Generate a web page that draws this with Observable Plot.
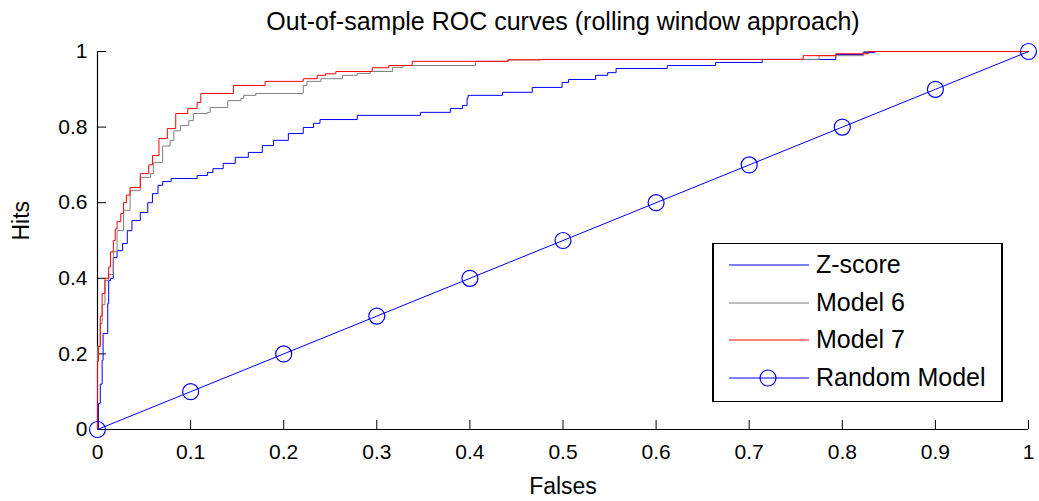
<!DOCTYPE html>
<html>
<head>
<meta charset="utf-8">
<script src="https://cdn.jsdelivr.net/npm/d3@7"></script>
<script src="https://cdn.jsdelivr.net/npm/@observablehq/plot@0.6"></script>
<style>
  body { margin: 0; background: #fff; }
  #wrap { position: relative; width: 1039px; height: 501px; font-family: "Liberation Sans", Arial, sans-serif; }
  #legend { position: absolute; left: 712px; top: 243px; width: 291px; height: 159px; box-sizing: border-box;
            border: 1px solid #000; border-left-width: 2px; border-right-width: 2px; background: #fff; }
  .row { position: absolute; left: 0; width: 100%; height: 0; }
  .row svg { position: absolute; left: 14px; top: -10px; }
  .row span { position: absolute; left: 102px; top: 0; transform: translateY(-52%); font-size: 25px; color: #000; white-space: nowrap; }
</style>
</head>
<body>
<div id="wrap"></div>
<script>
// ---- data ----
const titleText = "Out-of-sample ROC curves (rolling window approach)";
const xLabel = "Falses";
const yLabel = "Hits";
const xTicks = [0, 0.1, 0.2, 0.3, 0.4, 0.5, 0.6, 0.7, 0.8, 0.9, 1];
const yTicks = [0, 0.2, 0.4, 0.6, 0.8, 1];
const seriesNames = ["Z-score", "Model 6", "Model 7", "Random Model"];
const seriesColors = ["#0000ff", "#808080", "#ff0000", "#0000ff"];

// Z-score (blue)
const zFalses = [0, 0.001, 0.001, 0.003, 0.005, 0.006, 0.011, 0.012, 0.014, 0.017, 0.021, 0.027, 0.032, 0.037, 0.046, 0.054, 0.059, 0.065, 0.070, 0.079, 0.107, 0.118, 0.124, 0.135, 0.148, 0.162, 0.177, 0.189, 0.205, 0.221, 0.232, 0.239, 0.279, 0.347, 0.379, 0.392, 0.397, 0.398, 0.435, 0.467, 0.499, 0.506, 0.535, 0.548, 0.557, 0.612, 0.612, 0.664, 0.714, 0.714, 0.793, 0.822, 0.835, 1];
const zHits   = [0, 0.040, 0.069, 0.120, 0.183, 0.254, 0.333, 0.394, 0.400, 0.455, 0.473, 0.492, 0.526, 0.553, 0.574, 0.600, 0.624, 0.646, 0.656, 0.664, 0.672, 0.680, 0.690, 0.704, 0.720, 0.733, 0.751, 0.765, 0.783, 0.799, 0.810, 0.820, 0.831, 0.839, 0.849, 0.857, 0.876, 0.884, 0.892, 0.905, 0.918, 0.926, 0.937, 0.944, 0.955, 0.958, 0.963, 0.971, 0.976, 0.979, 0.992, 0.997, 1.0, 1.0];

// Model 6 (grey)
const m6Falses = [0, 0, 0.003, 0.005, 0.008, 0.012, 0.017, 0.021, 0.028, 0.035, 0.046, 0.057, 0.060, 0.070, 0.078, 0.082, 0.089, 0.098, 0.103, 0.118, 0.121, 0.140, 0.154, 0.157, 0.170, 0.221, 0.225, 0.240, 0.263, 0.279, 0.293, 0.317, 0.328, 0.406, 0.441, 0.476, 0.775, 0.823, 1];
const m6Hits   = [0, 0.22, 0.28, 0.33, 0.394, 0.41, 0.47, 0.526, 0.58, 0.632, 0.667, 0.677, 0.706, 0.75, 0.765, 0.79, 0.804, 0.817, 0.836, 0.839, 0.852, 0.87, 0.876, 0.884, 0.889, 0.910, 0.921, 0.928, 0.937, 0.942, 0.947, 0.958, 0.963, 0.974, 0.978, 0.979, 0.989, 1.0, 1.0];

// Model 7 (red)
const m7Falses = [0, 0, 0.001, 0.003, 0.005, 0.008, 0.012, 0.014, 0.017, 0.019, 0.021, 0.025, 0.028, 0.031, 0.035, 0.046, 0.055, 0.059, 0.066, 0.075, 0.084, 0.097, 0.107, 0.111, 0.146, 0.180, 0.221, 0.236, 0.245, 0.256, 0.295, 0.313, 0.338, 0.441, 0.476, 0.758, 0.793, 0.828, 1];
const m7Hits   = [0, 0.18, 0.22, 0.30, 0.36, 0.40, 0.43, 0.47, 0.50, 0.53, 0.55, 0.571, 0.60, 0.62, 0.64, 0.677, 0.70, 0.725, 0.77, 0.796, 0.836, 0.849, 0.865, 0.889, 0.910, 0.921, 0.928, 0.937, 0.941, 0.947, 0.957, 0.963, 0.974, 0.978, 0.979, 0.989, 0.994, 1.0, 1.0];

// Random model (blue with circles)
const randFalses = [0, 0.1, 0.2, 0.3, 0.4, 0.5, 0.6, 0.7, 0.8, 0.9, 1];
const randHits   = [0, 0.1, 0.2, 0.3, 0.4, 0.5, 0.6, 0.7, 0.8, 0.9, 1];

// ---- build tables ----
const toRows = (xs, ys) => xs.map((x, i) => ({x, y: ys[i]}));
const zData = toRows(zFalses, zHits);
const m6Data = toRows(m6Falses, m6Hits);
const m7Data = toRows(m7Falses, m7Hits);
const randData = toRows(randFalses, randHits);

const W = 1039, H = 501, mL = 97, mR = 11, mT = 51, mB = 72;
const innerW = W - mL - mR, innerH = H - mT - mB;
const tickLen = 9;
const fmt = d => String(d);

const chart = Plot.plot({
  width: W, height: H,
  marginLeft: mL, marginRight: mR, marginTop: mT, marginBottom: mB,
  style: { fontFamily: '"Liberation Sans", Arial, sans-serif', fontSize: "21px", color: "#000", background: "#fff", overflow: "visible" },
  x: { domain: [0, 1] },
  y: { domain: [0, 1] },
  marks: [
    Plot.ruleY([0], { stroke: "#000", strokeWidth: 1.2 }),
    Plot.ruleX([0], { stroke: "#000", strokeWidth: 1.2 }),
    Plot.ruleX(xTicks, { x: d => d, insetTop: innerH - tickLen, stroke: "#000" }),
    Plot.ruleY(yTicks, { y: d => d, insetRight: innerW - tickLen, stroke: "#000" }),
    Plot.axisX({ ticks: xTicks, tickSize: 0, tickPadding: 15, tickFormat: fmt, label: null }),
    Plot.axisY({ ticks: yTicks, tickSize: 0, tickPadding: 10, tickFormat: fmt, label: null }),
    Plot.line(zData, { x: "x", y: "y", curve: "step-after", stroke: seriesColors[0], strokeWidth: 1 }),
    Plot.line(m6Data, { x: "x", y: "y", curve: "step-after", stroke: seriesColors[1], strokeWidth: 1 }),
    Plot.line(m7Data, { x: "x", y: "y", curve: "step-after", stroke: seriesColors[2], strokeWidth: 1 }),
    Plot.line(randData, { x: "x", y: "y", stroke: seriesColors[3], strokeWidth: 1 }),
    Plot.dot(randData, { x: "x", y: "y", r: 8, stroke: seriesColors[3], fill: "none", strokeWidth: 1.2 }),
    Plot.text([titleText], { text: d => d, frameAnchor: "top", dy: -30, fontSize: 25, lineAnchor: "middle" }),
    Plot.text([xLabel], { text: d => d, frameAnchor: "bottom", dy: 57, fontSize: 23, lineAnchor: "middle" }),
    Plot.text([yLabel], { text: d => d, frameAnchor: "left", dx: -76, rotate: -90, fontSize: 23, lineAnchor: "middle" })
  ]
});

const wrap = document.getElementById("wrap");
wrap.appendChild(chart);

// ---- legend ----
const legend = document.createElement("div");
legend.id = "legend";
const rowTops = [21, 59, 96, 134];
seriesNames.forEach((name, i) => {
  const row = document.createElement("div");
  row.className = "row";
  row.style.top = rowTops[i] + "px";
  const marker = i === 3 ? `<circle cx="40" cy="10" r="8" fill="none" stroke="${seriesColors[i]}" stroke-width="1.2"/>` : "";
  row.innerHTML = `<svg width="82" height="20"><line x1="1" y1="10" x2="81" y2="10" stroke="${seriesColors[i]}" stroke-width="1"/>${marker}</svg><span>${name}</span>`;
  legend.appendChild(row);
});
wrap.appendChild(legend);
</script>
</body>
</html>
